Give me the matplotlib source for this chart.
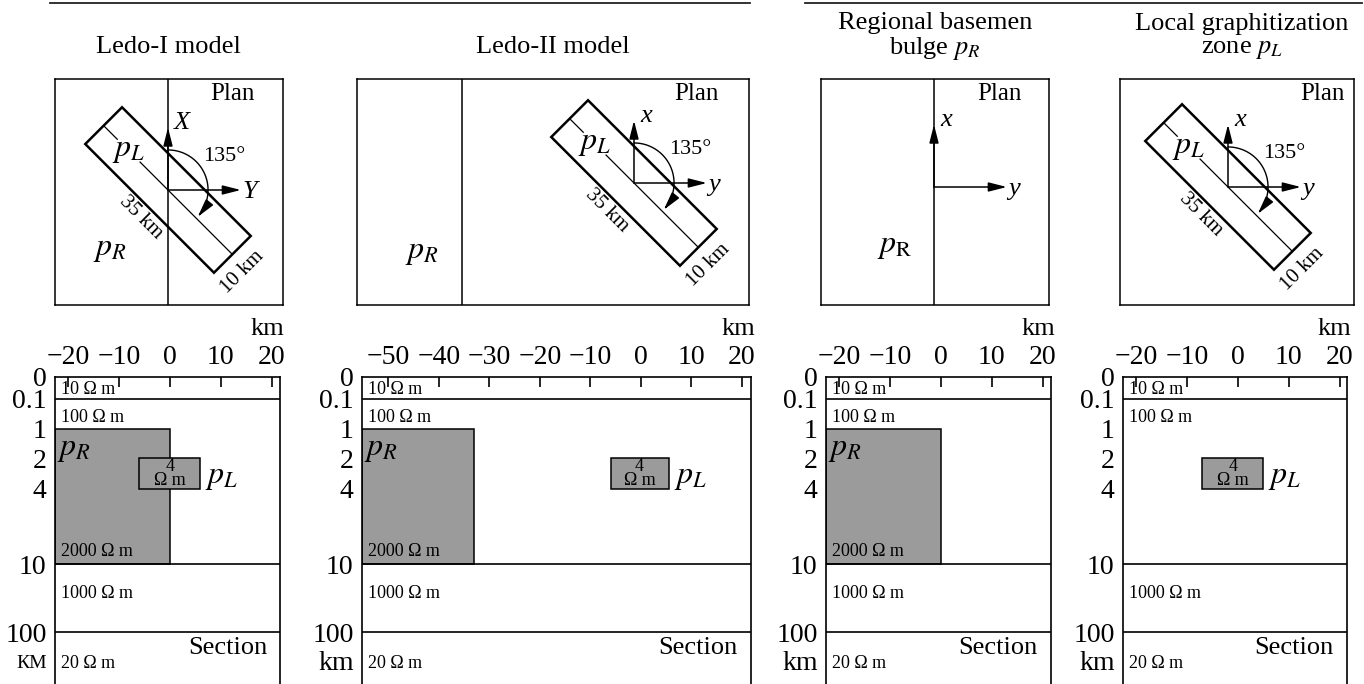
import numpy as np
import matplotlib
matplotlib.use('Agg')
import matplotlib.pyplot as plt
from matplotlib.patches import Rectangle, Polygon
from matplotlib.lines import Line2D

plt.rcParams['font.family'] = 'Liberation Serif'
plt.rcParams['mathtext.fontset'] = 'stix'

W, H = 1364, 684

# --- model description ---
titles = ['Ledo-I model', 'Ledo-II model',
          'Regional basemen\nbulge $p_R$', 'Local graphitization\nzone $p_L$']
axis_names = [('X', 'Y'), ('x', 'y'), ('x', 'y'), ('x', 'y')]
bulge_edge = [0, -33, 0, None]                  # km, east edge of the basement bulge
zone_x = [(-6, 6), (-6, 5.5), None, (-7, 5)]    # km, graphitized zone in section
pR_plan = [(-11.2, -11.5), (-40.8, -13.3), (-7.5, -11.5), None]
pR_plan_text = ['$p_R$', '$p_R$', r'$p_{\mathrm{R}}$', None]

layer_depth = [0.1, 10, 100]                    # km
layer_rho = [10, 100, 1000, 20]                 # Ohm m
bulge_top, bulge_bot, bulge_rho = 1, 10, 2000
zone_top, zone_bot, zone_rho = 2, 4, 4
zone_len, zone_wid, strike = 35, 10, 135        # km, km, degrees

depth_ticks = [0, 0.1, 1, 2, 4, 10, 100]
depth_labels = ['0', '0.1', '1', '2', '4', '10', '100']
unit_labels = ['КМ', 'km', 'km', 'km']
sec_xlim = [(-22.5, 21.6), (-55.2, 21.8), (-22.5, 21.6), (-22.5, 21.4)]
sec_xticks = [[-20, -10, 0, 10, 20],
              [-50, -40, -30, -20, -10, 0, 10, 20],
              [-20, -10, 0, 10, 20],
              [-20, -10, 0, 10, 20]]

# --- layout (pixels) ---
sec_px = [(55, 280), (362, 751), (826, 1051), (1123, 1347)]
sec_top, sec_bot = 377, 684
plan_box = [(55, 79, 283, 305), (357, 79, 749, 305),
            (821, 79, 1049, 305), (1120, 79, 1354, 305)]
plan_origin = [(168, 190), (634, 183), (934, 187), (1228, 187)]
plan_label_dx = [-28, -30, -27, -9]
title_x = [168, 553, 935, 1242]
title_y = [47, 47, 37, 37]
px_per_km = 5.2

# stretched depth axis
depth_knots = [0, 0.1, 1, 2, 4, 10, 100, 1000]
depth_pos = [0, 22, 52, 81, 112, 187, 255, 307]


def fwd(d):
    return np.interp(d, depth_knots, depth_pos)


def inv(p):
    return np.interp(p, depth_pos, depth_knots)


fig = plt.figure(figsize=(W / 100, H / 100), dpi=100)

for xs, xe in [(50, 750), (805, 1362)]:
    fig.add_artist(Line2D([xs / W, xe / W], [1 - 3 / H] * 2, color='#222222', lw=1.3))

u = np.array([np.sin(np.radians(strike)), np.cos(np.radians(strike))])
n = np.array([u[1], -u[0]])

arrow = dict(arrowstyle='-|>,head_length=1.1,head_width=0.28', color='black',
             lw=1.1, shrinkA=0, shrinkB=0, mutation_scale=10)

for i in range(4):
    fig.text(title_x[i] / W, 1 - title_y[i] / H, titles[i], ha='center', va='center',
             fontsize=19, linespacing=1.1)

    # ---------- plan ----------
    l, t, r, b = plan_box[i]
    ox, oy = plan_origin[i]
    ap = fig.add_axes([l / W, 1 - b / H, (r - l) / W, (b - t) / H])
    ap.set_xlim((l - ox) / px_per_km, (r - ox) / px_per_km)
    ap.set_ylim((oy - b) / px_per_km, (oy - t) / px_per_km)
    ap.set_xticks([])
    ap.set_yticks([])
    for sp in ap.spines.values():
        sp.set_linewidth(1.1)
    ap.annotate('Plan', xy=(1, 1), xycoords='axes fraction', xytext=(plan_label_dx[i], -15),
                textcoords='offset pixels', ha='right', va='center', fontsize=18)

    if bulge_edge[i] is not None:
        ap.axvline(bulge_edge[i], color='black', lw=1.1)
        ap.text(*pR_plan[i], pR_plan_text[i], fontsize=23, ha='center', va='center')

    ap.annotate('', xy=(0, 12), xytext=(0, 0), arrowprops=arrow)
    ap.annotate('', xy=(14, 0), xytext=(0, 0), arrowprops=arrow)
    ap.text(1.2, 12.9, axis_names[i][0], style='italic', fontsize=19, ha='left', va='center')
    ap.text(14.3, -0.3, axis_names[i][1], style='italic', fontsize=19, ha='left', va='center')

    if zone_x[i] is not None:
        c = [s1 * zone_len / 2 * u + s2 * zone_wid / 2 * n
             for s1, s2 in [(-1, -1), (1, -1), (1, 1), (-1, 1)]]
        ap.add_patch(Polygon(c, closed=True, fill=False, lw=1.8, ec='black'))
        t_lab, gap = -10.7, 3.1
        for ta, tb in [(-zone_len / 2, t_lab - gap), (t_lab + gap, zone_len / 2)]:
            seg = np.array([ta * u, tb * u])
            ap.plot(seg[:, 0], seg[:, 1], color='black', lw=0.9)
        ap.text(*(t_lab * u), '$p_L$', fontsize=23, ha='center', va='center')
        ap.text(*(7.5 * n), '35 km', fontsize=15, rotation=-45,
                ha='center', va='center', rotation_mode='anchor')
        ap.text(*((zone_len / 2 + 3.8) * u + 1.0 * n), '10 km', fontsize=15, rotation=45,
                ha='center', va='center', rotation_mode='anchor')
        # strike angle measured clockwise from the x axis
        rad = 7.7
        th = np.radians(np.linspace(90, 90 - strike + 9, 60))
        ap.plot(rad * np.cos(th), rad * np.sin(th), color='black', lw=1.0)
        th_end = np.radians(90 - strike + 3)
        ap.annotate('', xy=(rad * np.cos(th_end), rad * np.sin(th_end)),
                    xytext=(rad * np.cos(th[-1]), rad * np.sin(th[-1])), arrowprops=arrow)
        ap.text(10.8, 6.4, f'{strike}°', fontsize=16, ha='center', va='center')

    # ---------- section ----------
    xl, xr = sec_px[i]
    asec = fig.add_axes([xl / W, 1 - sec_bot / H, (xr - xl) / W, (sec_bot - sec_top) / H])
    asec.set_yscale('function', functions=(fwd, inv))
    asec.set_xlim(*sec_xlim[i])
    asec.set_ylim(1000, 0)
    asec.spines['bottom'].set_visible(False)
    for k in ['top', 'left', 'right']:
        asec.spines[k].set_linewidth(1.2)
    asec.xaxis.tick_top()
    asec.set_xticks(sec_xticks[i])
    asec.tick_params(axis='x', direction='in', length=7, width=1.2, pad=5, labelsize=20)
    asec.set_yticks(depth_ticks)
    asec.set_yticklabels(depth_labels)
    asec.tick_params(axis='y', length=0, pad=6, labelsize=20)
    asec.minorticks_off()

    for d in layer_depth:
        asec.axhline(d, color='black', lw=1.2)

    ytr = asec.get_yaxis_transform()
    if bulge_edge[i] is not None:
        x0 = sec_xlim[i][0]
        asec.add_patch(Rectangle((x0, bulge_top), bulge_edge[i] - x0, bulge_bot - bulge_top,
                                 fc='#9b9b9b', ec='black', lw=1.1))
        asec.annotate('$p_R$', xy=(0, bulge_top), xycoords=ytr, xytext=(2, -20),
                      textcoords='offset pixels', ha='left', va='center', fontsize=23)
        asec.annotate(f'{bulge_rho} Ω m', xy=(0, bulge_bot), xycoords=ytr, xytext=(6, 12),
                      textcoords='offset pixels', ha='left', va='center', fontsize=13)
    if zone_x[i] is not None:
        za, zb = zone_x[i]
        asec.add_patch(Rectangle((za, zone_top), zb - za, zone_bot - zone_top,
                                 fc='#9b9b9b', ec='black', lw=1.1))
        asec.text((za + zb) / 2, 3, f'{zone_rho}\nΩ m', ha='center', va='center',
                  fontsize=13, linespacing=0.8)
        asec.annotate('$p_L$', xy=(zb, 3), xytext=(5, -4), textcoords='offset pixels',
                      ha='left', va='center', fontsize=23)

    rho_anchor = [(0, -13), (0.1, -18), (10, -30), (100, -31)]
    for rho, (d, dy) in zip(layer_rho, rho_anchor):
        asec.annotate(f'{rho} Ω m', xy=(0, d), xycoords=ytr, xytext=(6, dy),
                      textcoords='offset pixels', ha='left', va='center', fontsize=13)

    asec.annotate('Section', xy=(1, 100), xycoords=ytr, xytext=(-13, -16),
                  textcoords='offset pixels', ha='right', va='center', fontsize=19)
    asec.annotate('km', xy=(1, 1), xycoords='axes fraction', xytext=(4, 48),
                  textcoords='offset pixels', ha='right', va='center', fontsize=19)
    asec.annotate(unit_labels[i], xy=(0, 100), xycoords=ytr, xytext=(-8, -31),
                  textcoords='offset pixels', ha='right', va='center',
                  fontsize=14 if i == 0 else 20)

fig.savefig('out.png', dpi=100)
